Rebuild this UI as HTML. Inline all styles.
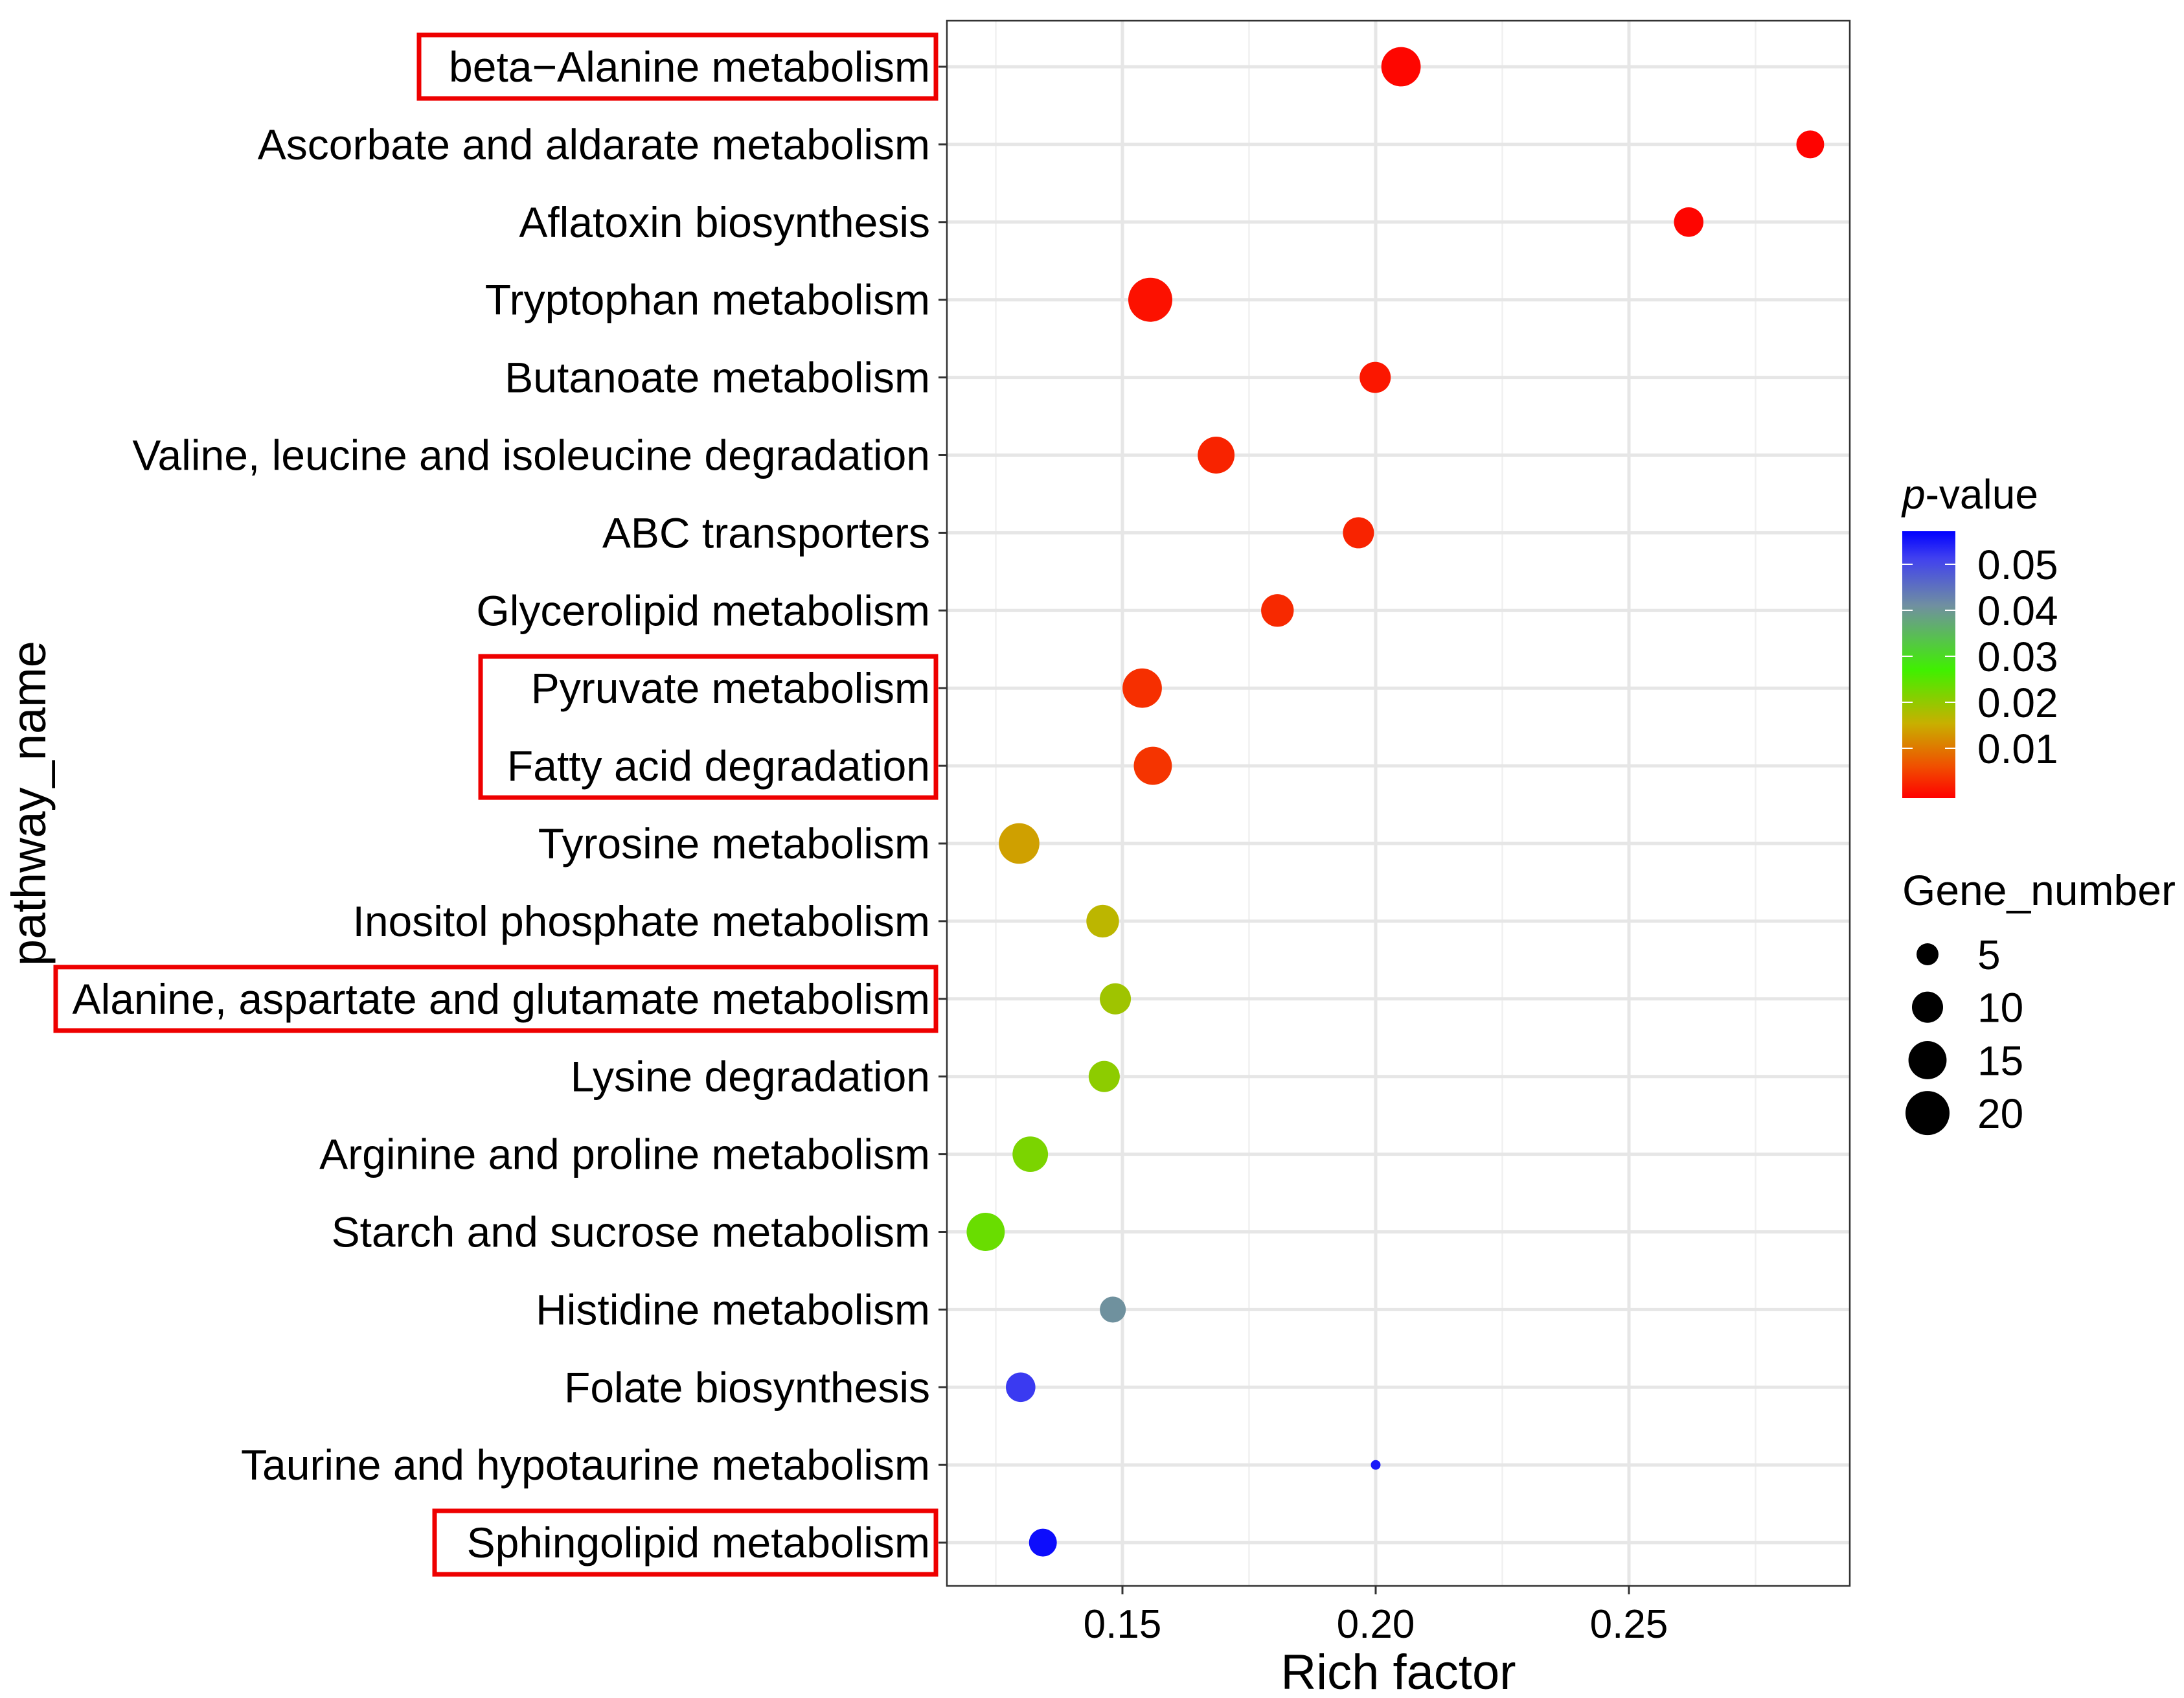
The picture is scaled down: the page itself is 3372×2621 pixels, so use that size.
<!DOCTYPE html>
<html><head><meta charset="utf-8"><style>
body{margin:0;background:#fff}
svg{display:block;font-family:"Liberation Sans",Arial,sans-serif}
</style></head><body>
<svg id="chart" width="3372" height="2621" viewBox="0 0 3372 2621" xmlns="http://www.w3.org/2000/svg">
<rect x="0" y="0" width="3372" height="2621" fill="#fff"/>
<g id="grid"></g>
<g id="marks"></g>
<rect x="1462" y="32" width="1394" height="2416" fill="none" stroke="#333" stroke-width="2.5"/>
<g id="yaxis"></g>
<g id="xaxis"></g>
<g id="boxes"></g>
<text x="2159" y="2607" font-size="76" text-anchor="middle">Rich factor</text>
<text transform="translate(70,1240) rotate(-90)" font-size="74" text-anchor="middle">pathway_name</text>
<defs><linearGradient id="pgrad" x1="0" y1="1" x2="0" y2="0">
<stop offset="0" stop-color="#ff0000"/><stop offset="0.12" stop-color="#f05000"/><stop offset="0.28" stop-color="#c8b000"/><stop offset="0.48" stop-color="#40f000"/><stop offset="0.72" stop-color="#7090a0"/><stop offset="0.9" stop-color="#4040f0"/><stop offset="1" stop-color="#0000ff"/>
</linearGradient></defs>
<g>
<text x="2937" y="785" font-size="64"><tspan font-style="italic">p</tspan>-value</text>
<rect x="2937" y="820" width="82" height="412" fill="url(#pgrad)"/>
<g id="cticks"></g>
</g>
<g>
<text x="2937" y="1397" font-size="66">Gene_number</text>
<g id="sizeleg"></g>
</g>
</svg>
<script>
const pathways=["beta\u2212Alanine metabolism","Ascorbate and aldarate metabolism","Aflatoxin biosynthesis","Tryptophan metabolism","Butanoate metabolism","Valine, leucine and isoleucine degradation","ABC transporters","Glycerolipid metabolism","Pyruvate metabolism","Fatty acid degradation","Tyrosine metabolism","Inositol phosphate metabolism","Alanine, aspartate and glutamate metabolism","Lysine degradation","Arginine and proline metabolism","Starch and sucrose metabolism","Histidine metabolism","Folate biosynthesis","Taurine and hypotaurine metabolism","Sphingolipid metabolism"];
const richFactor=[0.205,0.2858,0.2618,0.1555,0.1999,0.1685,0.1966,0.1806,0.1539,0.156,0.1296,0.1461,0.1486,0.1464,0.1318,0.123,0.1481,0.1299,0.2,0.1343];
const pValue=[0.0005,0.0003,0.0004,0.0015,0.002,0.003,0.003,0.0035,0.004,0.0045,0.0145,0.017,0.0195,0.021,0.0225,0.024,0.041,0.052,0.055,0.056];
const geneNumber=[16,8,9,20,10,14,10,11,16,15,17,11,10,10,13,15,7,9,1,8];
const xTicks=[0.15,0.20,0.25];
const xTickLabels=["0.15","0.20","0.25"];
const xMinor=[0.125,0.175,0.225,0.275];
const pTicks=[0.01,0.02,0.03,0.04,0.05];
const pTickLabels=["0.01","0.02","0.03","0.04","0.05"];
const sizeBreaks=[5,10,15,20];
const highlighted=[[0],[8,9],[12],[19]];

const NS="http://www.w3.org/2000/svg";
const X=v=>1733+(v-0.15)*7820;
const Y=i=>103+i*119.9;
const P=p=>1226-p*7100;
const R=n=>Math.sqrt(56+(n-1)*57.9);
const stops=[[0,[255,0,0]],[0.12,[240,80,0]],[0.28,[200,176,0]],[0.48,[64,240,0]],[0.72,[112,144,160]],[0.9,[64,64,240]],[1,[0,0,255]]];
function col(p){let f=(1226-P(p))/406;f=Math.max(0,Math.min(1,f));
 for(let k=1;k<stops.length;k++){if(f<=stops[k][0]){const a=stops[k-1],b=stops[k],t=(f-a[0])/(b[0]-a[0]);return "rgb("+a[1].map((c,j)=>Math.round(c+(b[1][j]-c)*t)).join(",")+")";}}return "rgb(0,0,255)";}
function mk(tag,at,parent){const e=document.createElementNS(NS,tag);for(const k in at)e.setAttribute(k,at[k]);parent.appendChild(e);return e;}
const grid=document.getElementById('grid');
xMinor.forEach(v=>{const l=mk('line',{x1:X(v),x2:X(v),y1:32,y2:2448,stroke:'#f0f0f0','stroke-width':2.5},grid);

});
xTicks.forEach(v=>{const l=mk('line',{x1:X(v),x2:X(v),y1:32,y2:2448,stroke:'#e6e6e6','stroke-width':5},grid);

});
pathways.forEach((p,i)=>{const l=mk('line',{x1:1462,x2:2856,y1:Y(i),y2:Y(i),stroke:'#e6e6e6','stroke-width':5},grid);

});
const marks=document.getElementById('marks');
pathways.forEach((p,i)=>{const c=mk('circle',{cx:X(richFactor[i]),cy:Y(i),r:R(geneNumber[i]),fill:col(pValue[i])},marks);

});
const ya=document.getElementById('yaxis');
pathways.forEach((p,i)=>{const t=mk('text',{x:1436,y:Y(i)+23,'font-size':66,'text-anchor':'end',fill:'#000'},ya);t.textContent=p;


const l=mk('line',{x1:1449,x2:1462,y1:Y(i),y2:Y(i),stroke:'#333','stroke-width':3},ya);

});
const xa=document.getElementById('xaxis');
xTicks.forEach((v,i)=>{const l=mk('line',{x1:X(v),x2:X(v),y1:2448,y2:2461,stroke:'#333','stroke-width':3},xa);


const t=mk('text',{x:X(v),y:2528,'font-size':62,'text-anchor':'middle',fill:'#000'},xa);t.textContent=xTickLabels[i];

});
const bx=document.getElementById('boxes');
highlighted.forEach(g=>{const y0=Y(g[0])-49,y1=Y(g[g.length-1])+49;
const left={0:647,8:742,12:86,19:671}[g[0]];
const r=mk('rect',{x:left,y:y0,width:1445-left,height:y1-y0,fill:'none',stroke:'#ee0000','stroke-width':7},bx);

});
const ct=document.getElementById('cticks');
pTicks.forEach((p,i)=>{const y=P(p);
const a=mk('line',{x1:2937,x2:2953,y1:y,y2:y,stroke:'#fff','stroke-width':2},ct);


const b=mk('line',{x1:3003,x2:3019,y1:y,y2:y,stroke:'#fff','stroke-width':2},ct);


const t=mk('text',{x:3053,y:y+23,'font-size':64},ct);t.textContent=pTickLabels[i];

});
const sl=document.getElementById('sizeleg');
sizeBreaks.forEach((n,i)=>{const y=1473+i*81.7;
const c=mk('circle',{cx:2976,cy:y,r:R(n),fill:'#000'},sl);


const t=mk('text',{x:3053,y:y+23,'font-size':64},sl);t.textContent=String(n);

});
</script>
</body></html>
